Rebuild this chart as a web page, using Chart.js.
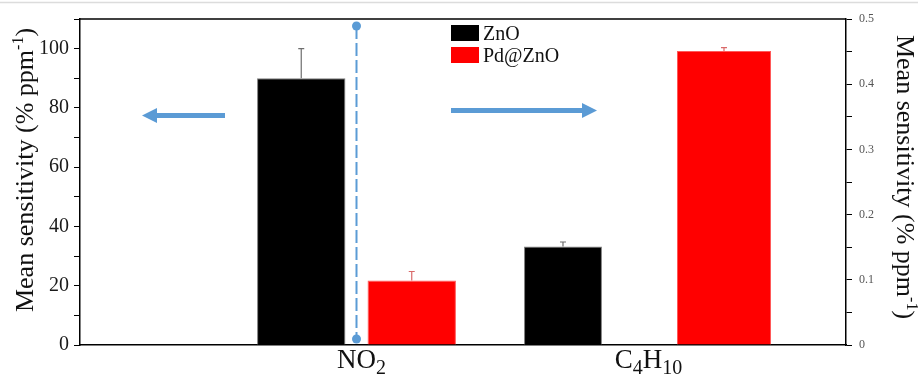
<!DOCTYPE html>
<html>
<head>
<meta charset="utf-8">
<script src="https://cdn.jsdelivr.net/npm/chart.js@4.4.1/dist/chart.umd.min.js"></script>
<style>
html,body{margin:0;padding:0;background:#fff;}
#wrap{width:918px;height:379px;position:relative;}
</style>
</head>
<body>
<div id="wrap"><canvas id="c" width="918" height="379"></canvas></div>
<script>
// data
const categories = ["NO_2", "C_4H_10"];
const seriesNames = ["ZnO", "Pd@ZnO"];
const seriesColors = ["#000000", "#ff0000"];
const edgeColors = ["#7f7f7f", "#ff5a5a"];
const errColors = ["#6e6e6e", "#d96a6a"];
const no2Values = [90, 21.8];        // left axis
const no2Errors = [10, 3];
const c4h10Values = [0.151, 0.451];  // right axis
const c4h10Errors = [0.007, 0.005];
const leftTickLabels = [0, 20, 40, 60, 80, 100];
const rightTickLabels = ["0", "0.1", "0.2", "0.3", "0.4", "0.5"];
const axisTitle = "Mean sensitivity (% ppm^-1)";

const SERIF = "'Liberation Serif', 'Times New Roman', serif";
const BLUE = "#5b9bd5";

function qs(sel, root=document){ return root.querySelector(sel); }

// draws text with _sub / ^sup pieces, centred on x
function drawRich(ctx, str, x, y, size, small){
  const parts = str.split(/([_^][-\d]+)/).filter(s => s.length);
  const pieces = parts.map(p => {
    if (p[0] === "_") return { t:p.slice(1), f:small, dy: size*0.24 };
    if (p[0] === "^") return { t:p.slice(1), f:small, dy: -size*0.38 };
    return { t:p, f:size, dy:0 };
  });
  let total = 0;
  pieces.forEach(p => { ctx.font = `${p.f}px ${SERIF}`; p.w = ctx.measureText(p.t).width; total += p.w; });
  let cx = x - total/2;
  ctx.textAlign = "left";
  ctx.textBaseline = "alphabetic";
  pieces.forEach(p => { ctx.font = `${p.f}px ${SERIF}`; ctx.fillText(p.t, cx, y + p.dy); cx += p.w; });
}

function arrow(ctx, x0, x1, y, head){
  const dir = Math.sign(x1 - x0);
  const base = x1 - dir*head;
  ctx.fillStyle = BLUE;
  ctx.fillRect(Math.min(x0, base), y - 2.5, Math.abs(base - x0), 5);
  ctx.beginPath();
  ctx.moveTo(x1, y);
  ctx.lineTo(base, y - 7.5);
  ctx.lineTo(base, y + 7.5);
  ctx.closePath();
  ctx.fill();
}

const datasets = [];
seriesNames.forEach((name, i) => datasets.push({
  label: name, data: [{ x: 1, y: no2Values[i] }], err: [no2Errors[i]],
  yAxisID: "y", stack: name,
  backgroundColor: seriesColors[i], borderColor: edgeColors[i], borderWidth: 1,
  categoryPercentage: 0.77, barPercentage: 0.8
}));
const c4Pct = [0.484, 0.584];
seriesNames.forEach((name, i) => datasets.push({
  label: name, data: [{ x: 2, y: c4h10Values[i] }], err: [c4h10Errors[i]],
  yAxisID: "y2", stack: name,
  backgroundColor: seriesColors[i], borderColor: edgeColors[i], borderWidth: 1,
  categoryPercentage: 1.122, barPercentage: c4Pct[i]
}));

const decor = {
  id: "decor",
  afterDatasetsDraw(chart){
    const ctx = chart.ctx;
    const a = chart.chartArea;
    const xs = chart.scales.x;
    ctx.save();

    // page edge + top frame
    ctx.strokeStyle = "#dcdcdc"; ctx.lineWidth = 1.5;
    ctx.beginPath(); ctx.moveTo(0, 2.5); ctx.lineTo(918, 2.5); ctx.stroke();
    ctx.strokeStyle = "#000";
    ctx.beginPath(); ctx.moveTo(a.left, a.top); ctx.lineTo(a.right, a.top); ctx.stroke();

    // error bars (upper only)
    chart.data.datasets.forEach((ds, di) => {
      const meta = chart.getDatasetMeta(di);
      const ys = chart.scales[meta.yAxisID];
      const col = errColors[seriesNames.indexOf(ds.label)];
      meta.data.forEach((bar, j) => {
        const top = ys.getPixelForValue(ds.data[j].y + ds.err[j]);
        ctx.strokeStyle = col; ctx.lineWidth = 1.2;
        ctx.beginPath();
        ctx.moveTo(bar.x, bar.y); ctx.lineTo(bar.x, top);
        ctx.moveTo(bar.x - 3, top); ctx.lineTo(bar.x + 3, top);
        ctx.stroke();
      });
    });

    // dashed divider at NO2
    const dx = Math.round(xs.getPixelForValue(1)) + 0.5;
    ctx.strokeStyle = BLUE; ctx.lineWidth = 2; ctx.setLineDash([13, 4]);
    ctx.beginPath(); ctx.moveTo(dx, a.top + 7); ctx.lineTo(dx, a.bottom - 6); ctx.stroke();
    ctx.setLineDash([]);
    ctx.fillStyle = BLUE;
    [a.top + 7, a.bottom - 6].forEach(y => { ctx.beginPath(); ctx.arc(dx, y, 4.5, 0, Math.PI*2); ctx.fill(); });

    // arrows
    arrow(ctx, 225, 142, 115.5, 15);
    arrow(ctx, 451, 597, 110.5, 15);

    // legend
    seriesNames.forEach((name, i) => {
      const y = 25 + i*22;
      ctx.fillStyle = seriesColors[i];
      ctx.fillRect(451, y, 28, 16);
      ctx.fillStyle = "#111";
      drawRichLeft(ctx, name, 483, y + 14.5, 20);
    });

    // category labels
    ctx.fillStyle = "#111";
    categories.forEach((c, i) => drawRich(ctx, c, xs.getPixelForValue(i + 1) + 5, 368, 27, 20));

    // axis titles
    ctx.save();
    ctx.translate(33, 170); ctx.rotate(-Math.PI/2);
    drawRich(ctx, axisTitle, 0, 0, 26, 16);
    ctx.restore();
    ctx.save();
    ctx.translate(897, 177); ctx.rotate(Math.PI/2);
    drawRich(ctx, axisTitle, 0, 0, 26, 16);
    ctx.restore();

    ctx.restore();
  }
};

function drawRichLeft(ctx, str, x, y, size){
  ctx.font = `${size}px ${SERIF}`;
  ctx.textAlign = "left"; ctx.textBaseline = "alphabetic";
  ctx.fillText(str, x, y);
}

new Chart(qs("#c"), {
  type: "bar",
  data: { datasets },
  options: {
    responsive: false,
    devicePixelRatio: 1,
    animation: false,
    layout: { padding: { top: 19, left: 0, right: 0, bottom: 0 } },
    plugins: { legend: { display: false }, tooltip: { enabled: false } },
    scales: {
      x: {
        type: "linear", min: 0.0366, max: 2.7056, offset: false,
        afterBuildTicks: s => { s.ticks = [{ value: 1 }, { value: 2 }]; },
        afterFit: s => { s.height = 34; },
        ticks: { display: false },
        grid: { display: false, offset: false },
        border: { display: true, color: "#000", width: 1.5 }
      },
      y: {
        position: "left", min: 0, max: 110,
        afterFit: s => { s.width = 80; },
        ticks: {
          stepSize: 10, padding: 5, color: "#1a1a1a",
          font: { family: SERIF, size: 20 },
          callback: v => leftTickLabels.includes(v) ? String(v) : ""
        },
        grid: { drawOnChartArea: false, drawTicks: true, tickLength: 6, tickColor: "#000", tickWidth: 1 },
        border: { display: true, color: "#000", width: 1.5 }
      },
      y2: {
        position: "right", min: 0, max: 0.5,
        afterFit: s => { s.width = 72; },
        ticks: {
          stepSize: 0.05, padding: 7, color: "#555",
          font: { family: SERIF, size: 12 },
          callback: v => {
            const t = Math.abs(v) < 1e-9 ? "0" : v.toFixed(2).replace(/0$/, "");
            return rightTickLabels.includes(t) ? t : "";
          }
        },
        grid: { drawOnChartArea: false, drawTicks: true, tickLength: 6, tickColor: "#000", tickWidth: 1 },
        border: { display: true, color: "#000", width: 1.5 }
      }
    }
  },
  plugins: [decor]
});
</script>
</body>
</html>
